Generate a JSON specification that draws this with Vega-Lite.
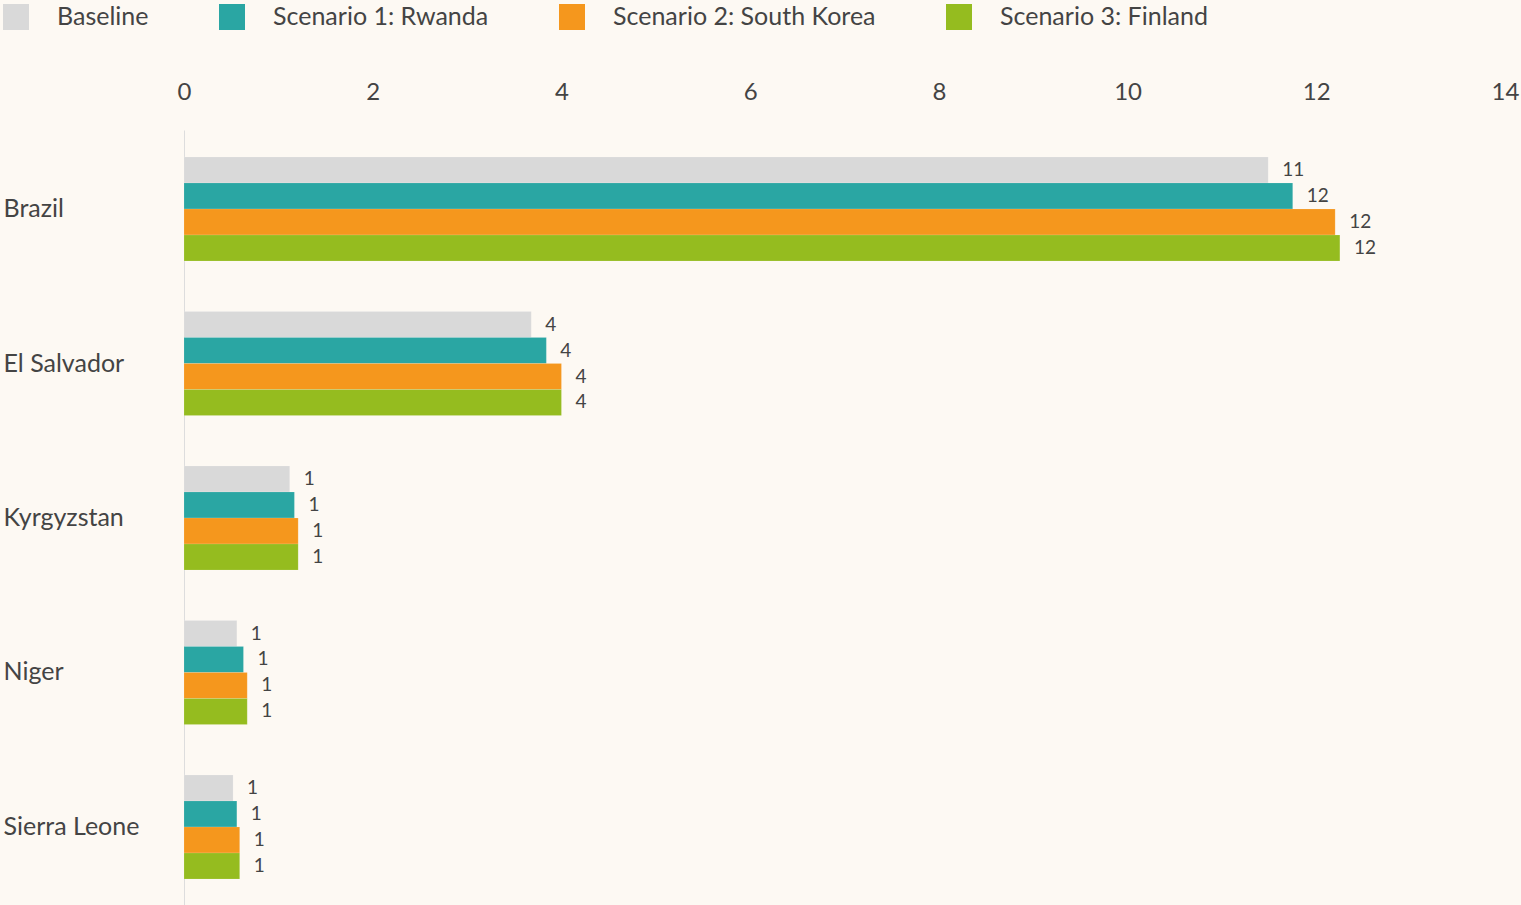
{
  "$schema": "https://vega.github.io/schema/vega-lite/v6.json",
  "width": 1321,
  "height": 776,
  "autosize": {"type": "none"},
  "padding": {"left": 184, "top": 130, "right": 16, "bottom": 0},
  "background": "#fdf9f3",
  "config": {
    "view": {"stroke": null},
    "font": "Lato",
    "text": {"font": "Lato"}
  },
  "data": {
    "values": [
      {"country": "Brazil", "scenario": "Baseline", "value": 11.49},
      {"country": "Brazil", "scenario": "Scenario 1: Rwanda", "value": 11.75},
      {"country": "Brazil", "scenario": "Scenario 2: South Korea", "value": 12.2},
      {"country": "Brazil", "scenario": "Scenario 3: Finland", "value": 12.25},
      {"country": "El Salvador", "scenario": "Baseline", "value": 3.68},
      {"country": "El Salvador", "scenario": "Scenario 1: Rwanda", "value": 3.84},
      {"country": "El Salvador", "scenario": "Scenario 2: South Korea", "value": 4.0},
      {"country": "El Salvador", "scenario": "Scenario 3: Finland", "value": 4.0},
      {"country": "Kyrgyzstan", "scenario": "Baseline", "value": 1.12},
      {"country": "Kyrgyzstan", "scenario": "Scenario 1: Rwanda", "value": 1.17},
      {"country": "Kyrgyzstan", "scenario": "Scenario 2: South Korea", "value": 1.21},
      {"country": "Kyrgyzstan", "scenario": "Scenario 3: Finland", "value": 1.21},
      {"country": "Niger", "scenario": "Baseline", "value": 0.56},
      {"country": "Niger", "scenario": "Scenario 1: Rwanda", "value": 0.63},
      {"country": "Niger", "scenario": "Scenario 2: South Korea", "value": 0.67},
      {"country": "Niger", "scenario": "Scenario 3: Finland", "value": 0.67},
      {"country": "Sierra Leone", "scenario": "Baseline", "value": 0.52},
      {"country": "Sierra Leone", "scenario": "Scenario 1: Rwanda", "value": 0.56},
      {"country": "Sierra Leone", "scenario": "Scenario 2: South Korea", "value": 0.59},
      {"country": "Sierra Leone", "scenario": "Scenario 3: Finland", "value": 0.59}
    ]
  },
  "encoding": {
    "y": {
      "field": "country",
      "type": "nominal",
      "sort": ["Brazil", "El Salvador", "Kyrgyzstan", "Niger", "Sierra Leone"],
      "scale": {"paddingInner": 0.327, "paddingOuter": 0.175},
      "axis": {
        "title": null,
        "ticks": false,
        "domain": true,
        "domainColor": "#dddddd",
        "domainWidth": 1,
        "labelAlign": "left",
        "labelPadding": 181,
        "labelFontSize": 25,
        "labelColor": "#444444",
        "labelFont": "Lato"
      }
    },
    "yOffset": {
      "field": "scenario",
      "type": "nominal",
      "sort": ["Baseline", "Scenario 1: Rwanda", "Scenario 2: South Korea", "Scenario 3: Finland"],
      "scale": {"paddingInner": 0, "paddingOuter": 0}
    },
    "x": {
      "field": "value",
      "type": "quantitative",
      "scale": {"domain": [0, 14], "nice": false},
      "axis": {
        "orient": "top",
        "title": null,
        "values": [0, 2, 4, 6, 8, 10, 12, 14],
        "ticks": false,
        "domain": false,
        "grid": false,
        "labelPadding": 26,
        "labelFontSize": 24,
        "labelColor": "#444444",
        "labelFont": "Lato",
        "labelFlush": false
      }
    }
  },
  "layer": [
    {
      "mark": {"type": "bar", "stroke": "#ffffff", "strokeOpacity": 0.25, "strokeWidth": 0.5},
      "encoding": {
        "color": {
          "field": "scenario",
          "type": "nominal",
          "sort": ["Baseline", "Scenario 1: Rwanda", "Scenario 2: South Korea", "Scenario 3: Finland"],
          "scale": {
            "domain": ["Baseline", "Scenario 1: Rwanda", "Scenario 2: South Korea", "Scenario 3: Finland"],
            "range": ["#d9d9d9", "#2aa6a3", "#f5971d", "#95bc1f"]
          },
          "legend": {
            "title": null,
            "orient": "none",
            "direction": "horizontal",
            "legendX": -181,
            "legendY": -126,
            "symbolType": "square",
            "symbolSize": 676,
            "symbolStrokeWidth": 0,
            "symbolOpacity": 1,
            "labelOffset": 28,
            "labelFontSize": 25,
            "labelColor": "#444444",
            "labelFont": "Lato",
            "labelLimit": 400,
            "columnPadding": 70
          }
        }
      }
    },
    {
      "mark": {"type": "text", "align": "left", "baseline": "middle", "dx": 14, "fontSize": 19, "color": "#444444", "font": "Lato"},
      "encoding": {
        "text": {"field": "value", "type": "quantitative", "format": ".0f"}
      }
    }
  ]
}
